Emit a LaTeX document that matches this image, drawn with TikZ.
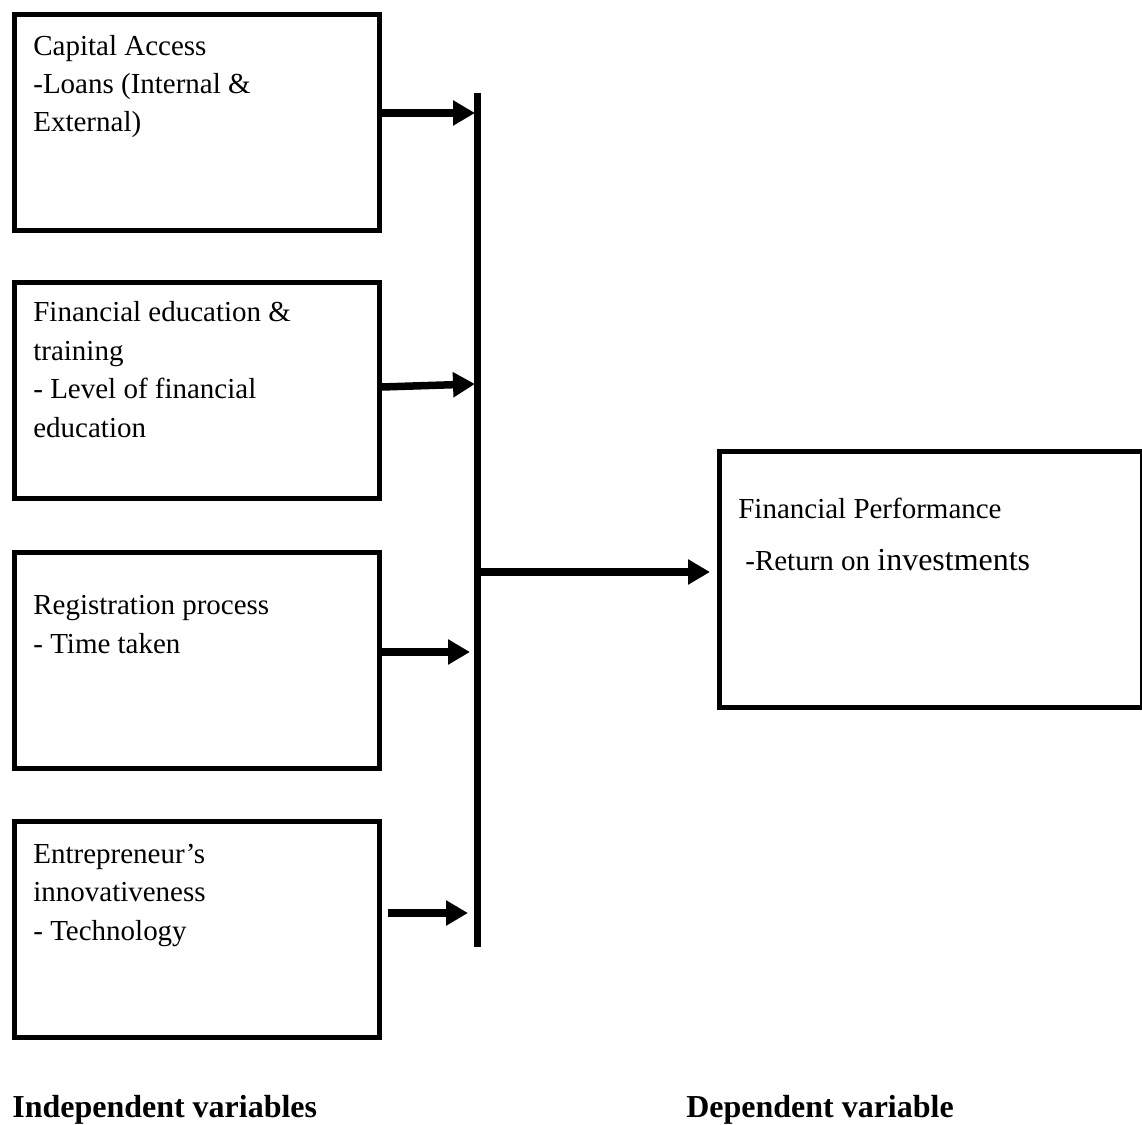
\documentclass[tikz,border=0pt]{standalone}
\usepackage{fontspec}
\setmainfont{Liberation Serif}
\usetikzlibrary{arrows.meta}
\tikzset{
  varbox/.style={draw, line width=0.1cm, minimum width=7.3cm, minimum height=4.32cm, anchor=north west, inner sep=0pt},
  vartext/.style={anchor=base west, align=left, inner sep=0pt, font=\fontsize{16.5}{21.9}\selectfont},
  flow/.style={line width=0.15cm, -{Triangle[length=0.44cm,width=0.48cm]}},
  bar/.style={line width=0.14cm},
  heading/.style={anchor=base west, inner sep=0pt, font=\fontsize{18.2}{22}\selectfont\bfseries}
}
\begin{document}
\begin{tikzpicture}[x=0.02cm, y=-0.02cm]
\useasboundingbox (0,0) rectangle (1142,1125);
\node[varbox] (cap) at (12,12) {};
\node[varbox] (edu) at (12,280) {};
\node[varbox] (reg) at (12,550) {};
\node[varbox] (inn) at (12,819) {};
\node[varbox, minimum width=8.46cm, minimum height=5.12cm] (perf) at (717,449) {};
\node[vartext] (cap_t) at (33,132) {Capital Access\\-Loans (Internal \&\\External)};
\node[vartext] (edu_t) at (33,437) {Financial education \&\\training\\- Level of financial\\education};
\node[vartext] (reg_t) at (33,653) {Registration process\\- Time taken};
\node[vartext] (inn_t) at (33,940) {Entrepreneur’s\\innovativeness\\- Technology};
\node[vartext] (perf_t) at (738,518) {Financial Performance};
\node[vartext] (perf_s) at (745,570) {-Return on {\fontsize{18.2}{22}\selectfont investments}};
\node[heading] (indep) at (12,1117) {Independent variables};
\node[heading] (dep) at (686,1117) {Dependent variable};
\coordinate (bar_top) at (477,93);
\coordinate (bar_bot) at (477,947);
\coordinate (in_cap) at (475,113);
\coordinate (in_edu) at (475,384);
\coordinate (in_reg) at (470,652);
\coordinate (in_inn) at (468,913);
\coordinate (out) at (480,572);
\draw[bar] (bar_top) -- (bar_bot);
\draw[flow] (cap.east |- in_cap) -- (in_cap);
\draw[flow] ([yshift=-0.06cm]edu.east |- in_edu) -- (in_edu);
\draw[flow] (reg.east |- in_reg) -- (in_reg);
\draw[flow] ([xshift=0.12cm]inn.east |- in_inn) -- (in_inn);
\draw[flow, shorten >=0.14cm] (out) -- (perf.west |- out);
\end{tikzpicture}
\end{document}
